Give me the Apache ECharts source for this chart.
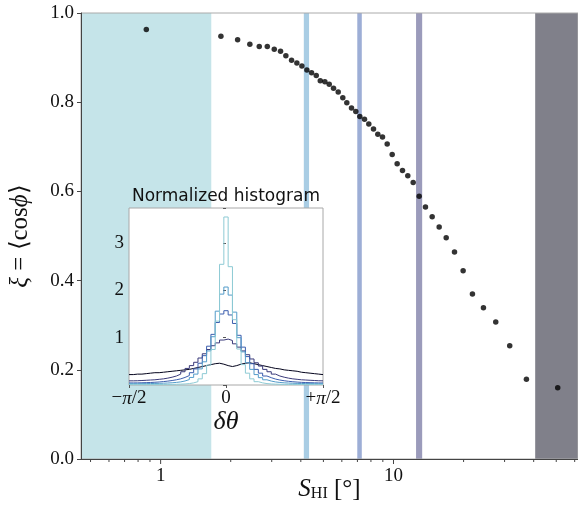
<!DOCTYPE html>
<html><head><meta charset="utf-8">
<script src="https://cdn.jsdelivr.net/npm/echarts@6/dist/echarts.min.js"></script>
<style>html,body{margin:0;padding:0;background:#fff}#c{width:578px;height:514px}</style>
</head><body><div id="c"></div>
<script>
// ---------- main panel data ----------
const sHI = [0.868,1.815,2.141,2.416,2.652,2.871,3.076,3.273,3.450,3.650,3.846,4.042,4.247,4.448,4.659,4.848,5.074,5.297,5.527,5.789,6.058,6.303,6.602,6.889,7.168,7.508,7.834,8.208,8.564,8.971,9.397,9.872,10.37,10.93,11.52,12.15,12.89,13.72,14.66,15.71,16.84,18.28,19.91,21.83,24.34,27.49,31.56,37.23,50.73];
const xi  = [0.963,0.948,0.940,0.930,0.925,0.925,0.919,0.914,0.904,0.894,0.888,0.881,0.872,0.866,0.860,0.848,0.846,0.840,0.831,0.823,0.810,0.799,0.787,0.779,0.768,0.762,0.751,0.740,0.728,0.722,0.706,0.683,0.662,0.647,0.635,0.620,0.589,0.565,0.543,0.520,0.496,0.464,0.422,0.370,0.339,0.307,0.254,0.179,0.160];
const bandRanges = [[0.455,1.65],[4.12,4.34],[6.99,7.31],[12.5,13.28],[40.6,62]];
const xMin = 0.455, xMax = 62;
const xMajorTicks = [1,10];
const xMinorTicks = [0.5,0.6,0.7,0.8,0.9,2,3,4,5,6,7,8,9,20,30,40,50,60];

// ---------- inset data (normalized histograms, bins of 4 deg) ----------
const binEdgesDeg = [-90,-86,-82,-78,-74,-70,-66,-62,-58,-54,-50,-46,-42,-38,-34,-30,-26,-22,-18,-14,-10,-6,-2,2,6,10,14,18,22,26,30,34,38,42,46,50,54,58,62,66,70,74,78,82,86,90];
const histA = [0.01,0.01,0.01,0.01,0.01,0.01,0.01,0.011,0.012,0.013,0.015,0.018,0.022,0.03,0.045,0.07,0.13,0.24,0.42,0.75,1.35,2.55,3.55,2.5,1.38,0.76,0.43,0.25,0.13,0.07,0.045,0.03,0.022,0.018,0.015,0.013,0.012,0.011,0.01,0.01,0.01,0.01,0.01,0.01,0.01];
const histB = [0.028,0.028,0.029,0.03,0.031,0.033,0.035,0.038,0.042,0.047,0.055,0.066,0.085,0.115,0.16,0.23,0.34,0.49,0.72,1.02,1.56,1.92,2.07,1.9,1.54,1.0,0.7,0.47,0.33,0.22,0.155,0.11,0.083,0.065,0.054,0.046,0.041,0.037,0.034,0.032,0.031,0.03,0.029,0.028,0.027];
const histC = [0.044,0.045,0.047,0.05,0.053,0.058,0.064,0.072,0.082,0.095,0.11,0.13,0.16,0.2,0.26,0.34,0.46,0.62,0.82,1.07,1.32,1.5,1.57,1.48,1.3,1.05,0.8,0.6,0.45,0.33,0.25,0.19,0.155,0.125,0.105,0.09,0.078,0.069,0.062,0.056,0.052,0.049,0.046,0.044,0.043];
const histD = [0.088,0.09,0.095,0.1,0.105,0.11,0.12,0.13,0.145,0.165,0.19,0.23,0.28,0.35,0.41,0.48,0.57,0.66,0.75,0.83,0.89,0.95,0.97,0.94,0.87,0.8,0.72,0.64,0.55,0.47,0.4,0.33,0.28,0.23,0.19,0.165,0.145,0.13,0.12,0.11,0.105,0.1,0.095,0.09,0.088];
const histE = [0.22,0.23,0.23,0.24,0.25,0.26,0.26,0.27,0.28,0.29,0.30,0.31,0.32,0.33,0.35,0.37,0.39,0.41,0.43,0.45,0.46,0.44,0.41,0.39,0.41,0.44,0.46,0.47,0.45,0.43,0.41,0.39,0.37,0.35,0.34,0.32,0.31,0.30,0.29,0.27,0.26,0.25,0.24,0.23,0.22];
const insetYMax = 3.74;

// ---------- styles ----------
const bandColors = ['#c5e4e9','#a9cde4','#9daed6','#9b9bbb','#80808a'];
const histColors = ['#8dcad4','#539cca','#3c5eae','#3a3a7a','#03031c'];
const SERIF = 'Liberation Serif';

function stepData(vals){
  const d = vals.map((v,i)=>[binEdgesDeg[i], v]);
  d.push([binEdgesDeg[binEdgesDeg.length-1], vals[vals.length-1]]);
  return d;
}
function tickSeries(vals, len){
  return {
    type:'custom', xAxisIndex:0, yAxisIndex:0, z:6, clip:false, silent:true,
    data: vals.map(v=>[v,0]),
    renderItem:(params, api)=>{
      const p = api.coord([api.value(0), api.value(1)]);
      return {type:'line', shape:{x1:p[0], y1:p[1], x2:p[0], y2:p[1]+len}, style:{stroke:'#444', lineWidth:1}};
    }
  };
}

const chart = echarts.init(document.getElementById('c'), null, {renderer:'canvas'});
const option = {
  animation:false,
  backgroundColor:'#fff',
  grid:[
    {left:81, top:13, width:497, height:446, show:true, borderColor:'#aaa', borderWidth:1, backgroundColor:'transparent', z:3, containLabel:false, outerBoundsMode:'none'},
    {left:129, top:208, width:194, height:177, show:true, borderColor:'#a8a8a8', borderWidth:1, backgroundColor:'#fff', z:7, containLabel:false, outerBoundsMode:'none'}
  ],
  xAxis:[
    {type:'log', logBase:10, gridIndex:0, min:xMin, max:xMax, z:4,
     axisLine:{show:true, lineStyle:{color:'#444'}},
     axisTick:{show:false}, splitLine:{show:false}, minorTick:{show:false},
     axisLabel:{margin:8, color:'#111', fontFamily:SERIF, fontSize:19,
       formatter:(v)=>{ for (const t of xMajorTicks){ if (Math.abs(v-t)/t<1e-6) return String(t);} return ''; }},
     name:'{i|S}{s|HI}{r| [°]}', nameLocation:'middle', nameGap:18, nameMoveOverlap:false,
     nameTextStyle:{rich:{
       i:{fontFamily:SERIF, fontStyle:'italic', fontSize:25, color:'#111'},
       s:{fontFamily:SERIF, fontSize:16, color:'#111', padding:[9,0,0,0]},
       r:{fontFamily:SERIF, fontSize:25, color:'#111'}
     }}
    },
    {type:'value', gridIndex:1, min:-90, max:90, interval:90, z:8,
     axisLine:{show:false}, axisTick:{show:true, length:3, lineStyle:{color:'#555'}}, splitLine:{show:false},
     axisLabel:{margin:4, color:'#111', fontFamily:SERIF, fontSize:19,
       formatter:(v)=> v<0 ? '{r|−}{i|π}{r|/2}' : (v>0 ? '{r|+}{i|π}{r|/2}' : '{r|0}'),
       rich:{r:{fontFamily:SERIF, fontSize:19, color:'#111'}, i:{fontFamily:SERIF, fontStyle:'italic', fontSize:19, color:'#111'}}},
     name:'δθ', nameLocation:'middle', nameGap:24, nameMoveOverlap:false,
     nameTextStyle:{fontFamily:SERIF, fontStyle:'italic', fontSize:26, color:'#111'}
    }
  ],
  yAxis:[
    {type:'value', gridIndex:0, min:0, max:1, interval:0.2, z:4,
     axisLine:{show:true, lineStyle:{color:'#444'}},
     axisTick:{show:true, length:4, lineStyle:{color:'#444'}}, splitLine:{show:false},
     axisLabel:{margin:7, color:'#111', fontFamily:SERIF, fontSize:19, formatter:(v)=>v.toFixed(1)},
     name:'{i|ξ}{r| = ⟨cos}{i|ϕ}{r|⟩}', nameLocation:'middle', nameRotate:90, nameGap:48, nameMoveOverlap:false,
     nameTextStyle:{rich:{
       i:{fontFamily:SERIF, fontStyle:'italic', fontSize:25, color:'#111'},
       r:{fontFamily:SERIF, fontSize:25, color:'#111'}
     }}
    },
    {type:'value', gridIndex:1, min:0, max:insetYMax, interval:1, z:8,
     axisLine:{show:false}, axisTick:{show:true, length:3, lineStyle:{color:'#555'}}, splitLine:{show:false},
     axisLabel:{margin:5, color:'#111', fontFamily:SERIF, fontSize:19,
       formatter:(v)=> (v>0 && Math.abs(v-Math.round(v))<1e-9) ? String(Math.round(v)) : ''}
    }
  ],
  series:[
    {type:'line', xAxisIndex:0, yAxisIndex:0, data:[], z:1, silent:true,
     markArea:{silent:true, data: bandRanges.map((r,i)=>[{xAxis:r[0], itemStyle:{color:bandColors[i], opacity:1}},{xAxis:r[1]}])}},
    {type:'scatter', xAxisIndex:0, yAxisIndex:0, z:5, symbol:'circle', symbolSize:5.5,
     itemStyle:{color:'#000'}, data: sHI.map((x,i)=>[x, xi[i]])},
    tickSeries(xMajorTicks, 5),
    tickSeries(xMinorTicks, 3),
  ].concat([histE,histD,histC,histB,histA].map((h,k)=>({
    type:'line', xAxisIndex:1, yAxisIndex:1, step:'end', symbol:'none', z:10,
    lineStyle:{width:1, color:histColors[4-k]}, data: stepData(h)
  })))
};
chart.setOption(option);
// inset title, centered over the inset frame
const gx = chart.convertToPixel({gridIndex:1}, [0, insetYMax]);
chart.setOption({graphic:[{type:'text', x:gx[0], y:gx[1]-3, z:20,
  style:{text:'Normalized histogram', fontFamily:'DejaVu Sans', fontSize:17, fill:'#111', align:'center', verticalAlign:'bottom'}}]});
</script></body></html>
